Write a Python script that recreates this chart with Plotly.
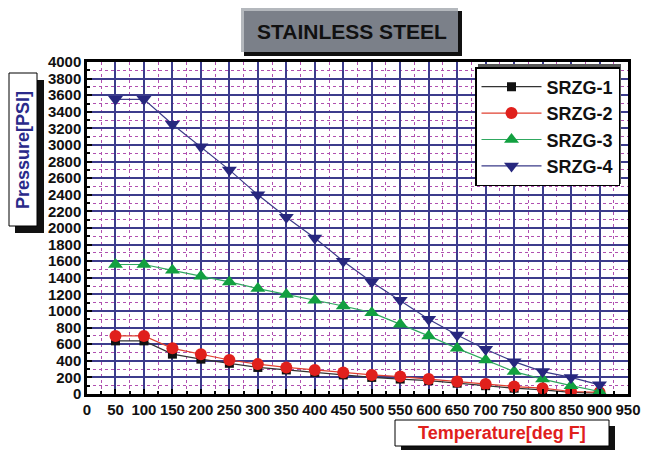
import plotly.graph_objects as go

# temperature points (deg F)
temps = [50, 100, 150, 200, 250, 300, 350, 400, 450, 500,
         550, 600, 650, 700, 750, 800, 850, 900]

# pressure values (PSI)
srzg1 = [640, 640, 480, 420, 370, 320, 290, 260, 230, 200,
         180, 160, 130, 100, 70, 50, 20, 10]
srzg2 = [700, 700, 550, 480, 410, 360, 320, 290, 260, 230,
         210, 180, 150, 120, 90, 70, 30, 20]
srzg3 = [1560, 1560, 1490, 1420, 1350, 1270, 1200, 1130, 1060, 980,
         840, 700, 550, 410, 270, 180, 100, 30]
srzg4 = [3550, 3550, 3250, 2980, 2700, 2400, 2130, 1880, 1600, 1350,
         1130, 900, 710, 540, 390, 270, 200, 110]

series_names = ["SRZG-1", "SRZG-2", "SRZG-3", "SRZG-4"]
x_ticks = list(range(0, 951, 50))
y_ticks = list(range(0, 4001, 200))

# page has an 8px body margin, figure sits at (8, 8)
OFF = 8
PW, PH = 652, 450
# plot area in page pixels (for placing the boxes)
L, R, T, B = 87, 628, 62, 394


def px(x):
    return (x - L) / (R - L)


def py(y):
    return (B - y) / (B - T)


fig = go.Figure()

styles = [
    dict(color="#111111", line="#333333", symbol="square", size=9),
    dict(color="#e0201c", line="#e04030", symbol="circle", size=12),
    dict(color="#12a040", line="#30a860", symbol="triangle-up", size=13),
    dict(color="#27277e", line="#3a3a88", symbol="triangle-down", size=13),
]
for name, vals, st in zip(series_names, [srzg1, srzg2, srzg3, srzg4], styles):
    fig.add_trace(go.Scatter(
        x=temps, y=vals, name=name, mode="lines+markers",
        line=dict(color=st["line"], width=1.2),
        marker=dict(color=st["color"], symbol=st["symbol"], size=st["size"],
                    line=dict(width=0)),
    ))

tickfont = dict(family="Liberation Sans", size=15, color="#111111", weight="bold")

fig.update_xaxes(
    range=[0, 950], tickvals=x_ticks, ticktext=[str(v) for v in x_ticks],
    tickfont=tickfont, tickangle=0, showgrid=True, gridcolor="#3c3c8c", gridwidth=1.6,
    ticks="inside", ticklen=5, tickcolor="black", tickwidth=1.5,
    showline=True, linecolor="black", linewidth=2.5, mirror=True,
    zeroline=False, automargin=False,
    minor=dict(dtick=25, showgrid=True, gridcolor="#b050b0", griddash="dot",
               gridwidth=1, ticks="inside", ticklen=3, tickcolor="black"),
)
fig.update_yaxes(
    range=[0, 4000], tickvals=y_ticks, ticktext=[str(v) for v in y_ticks],
    tickfont=tickfont, showgrid=True, gridcolor="#3c3c8c", gridwidth=1.6,
    ticks="inside", ticklen=5, tickcolor="black", tickwidth=1.5,
    showline=True, linecolor="black", linewidth=2.5, mirror=True,
    zeroline=False, automargin=False,
    minor=dict(dtick=100, showgrid=True, gridcolor="#b050b0", griddash="dot",
               gridwidth=1, ticks="inside", ticklen=3, tickcolor="black"),
)

shapes = []
# title box: shadow, bevel, face
shapes.append(dict(type="rect", xref="paper", yref="paper", layer="above",
                   x0=px(244), x1=px(462), y0=py(11), y1=py(56),
                   fillcolor="#111111", line=dict(width=0)))
shapes.append(dict(type="rect", xref="paper", yref="paper", layer="above",
                   x0=px(241), x1=px(458), y0=py(8), y1=py(52),
                   fillcolor="#b4b8bd", line=dict(width=0)))
shapes.append(dict(type="rect", xref="paper", yref="paper", layer="above",
                   x0=px(244), x1=px(458), y0=py(11), y1=py(52),
                   fillcolor="#7b8089", line=dict(width=0)))
# y title box
shapes.append(dict(type="rect", xref="paper", yref="paper", layer="above",
                   x0=px(15), x1=px(44), y0=py(80), y1=py(233),
                   fillcolor="#111111", line=dict(width=0)))
shapes.append(dict(type="rect", xref="paper", yref="paper", layer="above",
                   x0=px(9), x1=px(37), y0=py(73), y1=py(226),
                   fillcolor="white", line=dict(color="black", width=1)))
# x title box
shapes.append(dict(type="rect", xref="paper", yref="paper", layer="above",
                   x0=px(401), x1=px(615), y0=py(426), y1=py(452),
                   fillcolor="#111111", line=dict(width=0)))
shapes.append(dict(type="rect", xref="paper", yref="paper", layer="above",
                   x0=px(395), x1=px(609), y0=py(420), y1=py(446),
                   fillcolor="white", line=dict(color="black", width=1)))
# legend frame shadow
shapes.append(dict(type="rect", xref="paper", yref="paper", layer="above",
                   x0=px(478), x1=px(621), y0=py(64), y1=py(184),
                   fillcolor="#555555", line=dict(width=0)))

annotations = [
    dict(text="STAINLESS STEEL", x=px(352), y=py(32), xref="paper", yref="paper",
         showarrow=False, xanchor="center", yanchor="middle",
         font=dict(family="Liberation Sans", size=21, color="#111111", weight="bold")),
    dict(text="Pressure[PSI]", x=px(23), y=py(150), xref="paper", yref="paper",
         showarrow=False, textangle=-90, xanchor="center", yanchor="middle",
         font=dict(family="Liberation Sans", size=18, color="#2a2a8a", weight="bold")),
    dict(text="Temperature[deg F]", x=px(502), y=py(433), xref="paper", yref="paper",
         showarrow=False, xanchor="center", yanchor="middle",
         font=dict(family="Liberation Sans", size=18, color="#e0201c", weight="bold")),
]

fig.update_layout(
    width=PW - OFF, height=PH - OFF,
    margin=dict(l=L - OFF, r=PW - R, t=T - OFF, b=PH - B, autoexpand=False),
    paper_bgcolor="white", plot_bgcolor="white",
    shapes=shapes, annotations=annotations,
    legend=dict(x=px(475), y=py(67), xanchor="left", yanchor="top",
                bgcolor="white", bordercolor="black", borderwidth=1.5,
                font=dict(family="Liberation Sans", size=18, color="#111111",
                          weight="bold"),
                itemwidth=60),
    showlegend=True,
)

fig.write_html("out.html")
